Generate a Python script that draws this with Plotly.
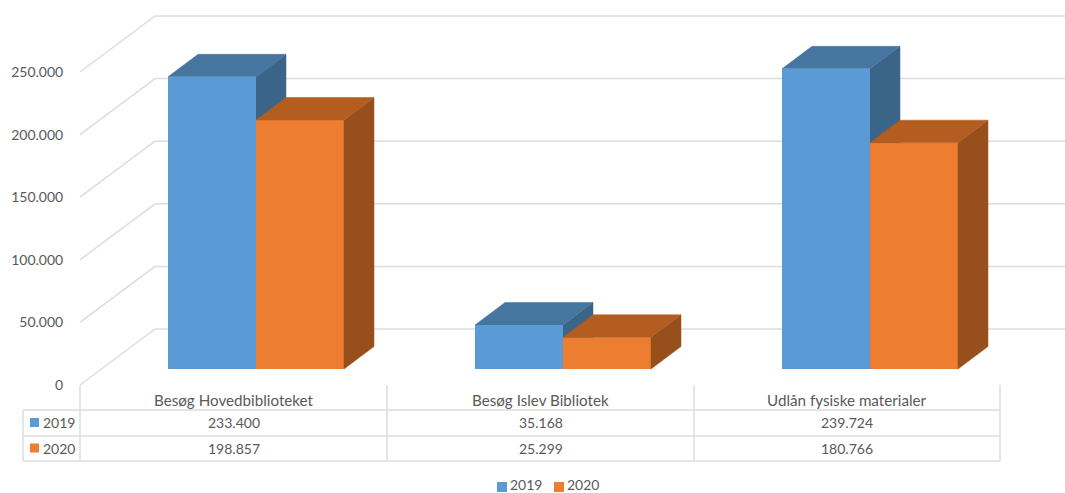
import plotly.graph_objects as go

# ---- data ----
categories = ["Besøg Hovedbiblioteket", "Besøg Islev Bibliotek", "Udlån fysiske materialer"]
series_names = ["2019", "2020"]
values_2019 = [233400, 35168, 239724]
values_2020 = [198857, 25299, 180766]
tick_values = [0, 50000, 100000, 150000, 200000, 250000]

def fmt(v):
    return f"{v:,}".replace(",", ".")

tick_labels = [fmt(v) for v in tick_values]

# ---- geometry / style ----
W, H = 1065, 493
S = 1.252 / 1000          # pixels per value unit
FRONT_ZERO = 385          # pixel of value 0 on axis plane
BAR_ZERO = 369            # pixel of value 0 at bar front
WALL_DX, WALL_DY = 75, 56
AX_X = 80
BAR_W = 88
GROUP_CENTERS = [256, 563, 870]
DEPTH_X, DEPTH_Y = 30, 22.5
BLUE, ORANGE = "#5B9BD5", "#ED7D31"
BLUE_TOP, BLUE_SIDE = "#4675A0", "#3A6488"
ORANGE_TOP, ORANGE_SIDE = "#B35D20", "#97501C"
GRID = "#DCDCDC"
TEXT = "#595959"
FONT = "Lato"
FS = 14
FS_CAT = 15.2

def yrange(zero_px):
    return [-(H - zero_px) / S, zero_px / S]

def py(px):
    return 1 - px / H

dv = DEPTH_Y / S
fig = go.Figure()

def faces(x0, x1, v, top, side, yaxis):
    fig.add_trace(go.Scatter(x=[x1, x1, x1 + DEPTH_X, x1 + DEPTH_X, x1], y=[0, v, v + dv, dv, 0],
                             mode="lines", fill="toself", fillcolor=side, line=dict(color=side, width=0.5),
                             showlegend=False, hoverinfo="skip", yaxis=yaxis))
    fig.add_trace(go.Scatter(x=[x0, x1, x1 + DEPTH_X, x0 + DEPTH_X, x0], y=[v, v, v + dv, v + dv, v],
                             mode="lines", fill="toself", fillcolor=top, line=dict(color=top, width=0.5),
                             showlegend=False, hoverinfo="skip", yaxis=yaxis))

# rear faces of the 2019 bars go underneath everything of 2020
for c, v in zip(GROUP_CENTERS, values_2019):
    faces(c - BAR_W, c, v, BLUE_TOP, BLUE_SIDE, "y2")

fig.add_trace(go.Bar(name=series_names[0], x=[c - BAR_W / 2 for c in GROUP_CENTERS], y=values_2019,
                     width=BAR_W, marker=dict(color=BLUE, line=dict(width=0)), yaxis="y3",
                     text=categories, hovertemplate="%{text}: %{y}<extra>2019</extra>", textposition="none"))
fig.add_trace(go.Bar(name=series_names[1], x=[c + BAR_W / 2 for c in GROUP_CENTERS], y=values_2020,
                     width=BAR_W, marker=dict(color=ORANGE, line=dict(width=0)), yaxis="y3",
                     text=categories, hovertemplate="%{text}: %{y}<extra>2020</extra>", textposition="none"))

for c, v in zip(GROUP_CENTERS, values_2020):
    faces(c, c + BAR_W, v, ORANGE_TOP, ORANGE_SIDE, "y3")

shapes = []
wall = WALL_DY / S
for t in tick_values:
    shapes.append(dict(type="line", xref="x", yref="y", x0=AX_X, x1=AX_X + WALL_DX, y0=t, y1=t + wall,
                       line=dict(color=GRID, width=1.5), layer="below"))
    shapes.append(dict(type="line", xref="x", yref="y", x0=AX_X + WALL_DX, x1=W, y0=t + wall, y1=t + wall,
                       line=dict(color=GRID, width=1.5), layer="below"))

# data table
TBL_L, TBL_X0, TBL_R = 23, 80, 1000
TBL_TOP, ROW_H = 385, [410, 436, 461]
COLS = [80, 387, 694, 1000]
def tline(x0, y0, x1, y1):
    shapes.append(dict(type="line", xref="x", yref="paper", x0=x0, x1=x1, y0=py(y0), y1=py(y1),
                       line=dict(color=GRID, width=1.5), layer="below"))
for r in ROW_H:
    tline(TBL_L, r, TBL_R, r)
for x in COLS:
    tline(x, TBL_TOP, x, ROW_H[-1])
tline(TBL_L, ROW_H[0], TBL_L, ROW_H[-1])

annotations = []
def label(x, y, txt, xanchor="center", size=FS):
    annotations.append(dict(x=x, y=py(y), xref="x", yref="paper", text=txt, showarrow=False,
                            xanchor=xanchor, yanchor="middle", font=dict(family=FONT, size=size, color=TEXT)))

col_centers = [(COLS[i] + COLS[i + 1]) / 2 for i in range(3)]
row_centers = [422.5, 448]
for i, cat in enumerate(categories):
    label(col_centers[i], 399.5, cat, size=FS_CAT)
    label(col_centers[i], row_centers[0], fmt(values_2019[i]))
    label(col_centers[i], row_centers[1], fmt(values_2020[i]))
for name, col, yc in zip(series_names, [BLUE, ORANGE], row_centers):
    label(41, yc, name, "left")
    shapes.append(dict(type="rect", xref="x", yref="paper", x0=30, x1=39, y0=py(yc - 4.5), y1=py(yc + 4.5),
                       fillcolor=col, line=dict(width=0)))

# legend at the foot of the chart
LEG_SWATCH_Y = 487
LEG_TEXT_Y = 484
for name, col, sx in zip(series_names, [BLUE, ORANGE], [497, 554]):
    shapes.append(dict(type="rect", xref="x", yref="paper", x0=sx, x1=sx + 10,
                       y0=py(LEG_SWATCH_Y - 5), y1=py(LEG_SWATCH_Y + 5),
                       fillcolor=col, line=dict(width=0)))
    label(sx + 11, LEG_TEXT_Y, name, "left")

hidden = dict(visible=False, overlaying="y", showgrid=False, zeroline=False)
fig.update_layout(
    width=W, height=H, margin=dict(l=0, r=0, t=0, b=0, pad=0),
    paper_bgcolor="white", plot_bgcolor="white", barmode="overlay", showlegend=False,
    font=dict(family=FONT, size=FS, color=TEXT),
    xaxis=dict(range=[0, W], domain=[0, 1], visible=False, fixedrange=True),
    yaxis=dict(range=yrange(FRONT_ZERO), anchor="free", position=AX_X / W, side="left",
               tickmode="array", tickvals=tick_values, ticktext=tick_labels,
               showgrid=False, zeroline=False, showline=False, ticks="outside", ticklen=14, tickcolor="white",
               tickfont=dict(family=FONT, size=FS, color=TEXT), fixedrange=True),
    yaxis2=dict(range=yrange(BAR_ZERO), **hidden),
    yaxis3=dict(range=yrange(BAR_ZERO), **hidden),
    shapes=shapes, annotations=annotations,
)

fig.write_html("out.html", config=dict(displayModeBar=False),
               post_script="document.body.style.margin='0';document.body.style.overflow='hidden';")
